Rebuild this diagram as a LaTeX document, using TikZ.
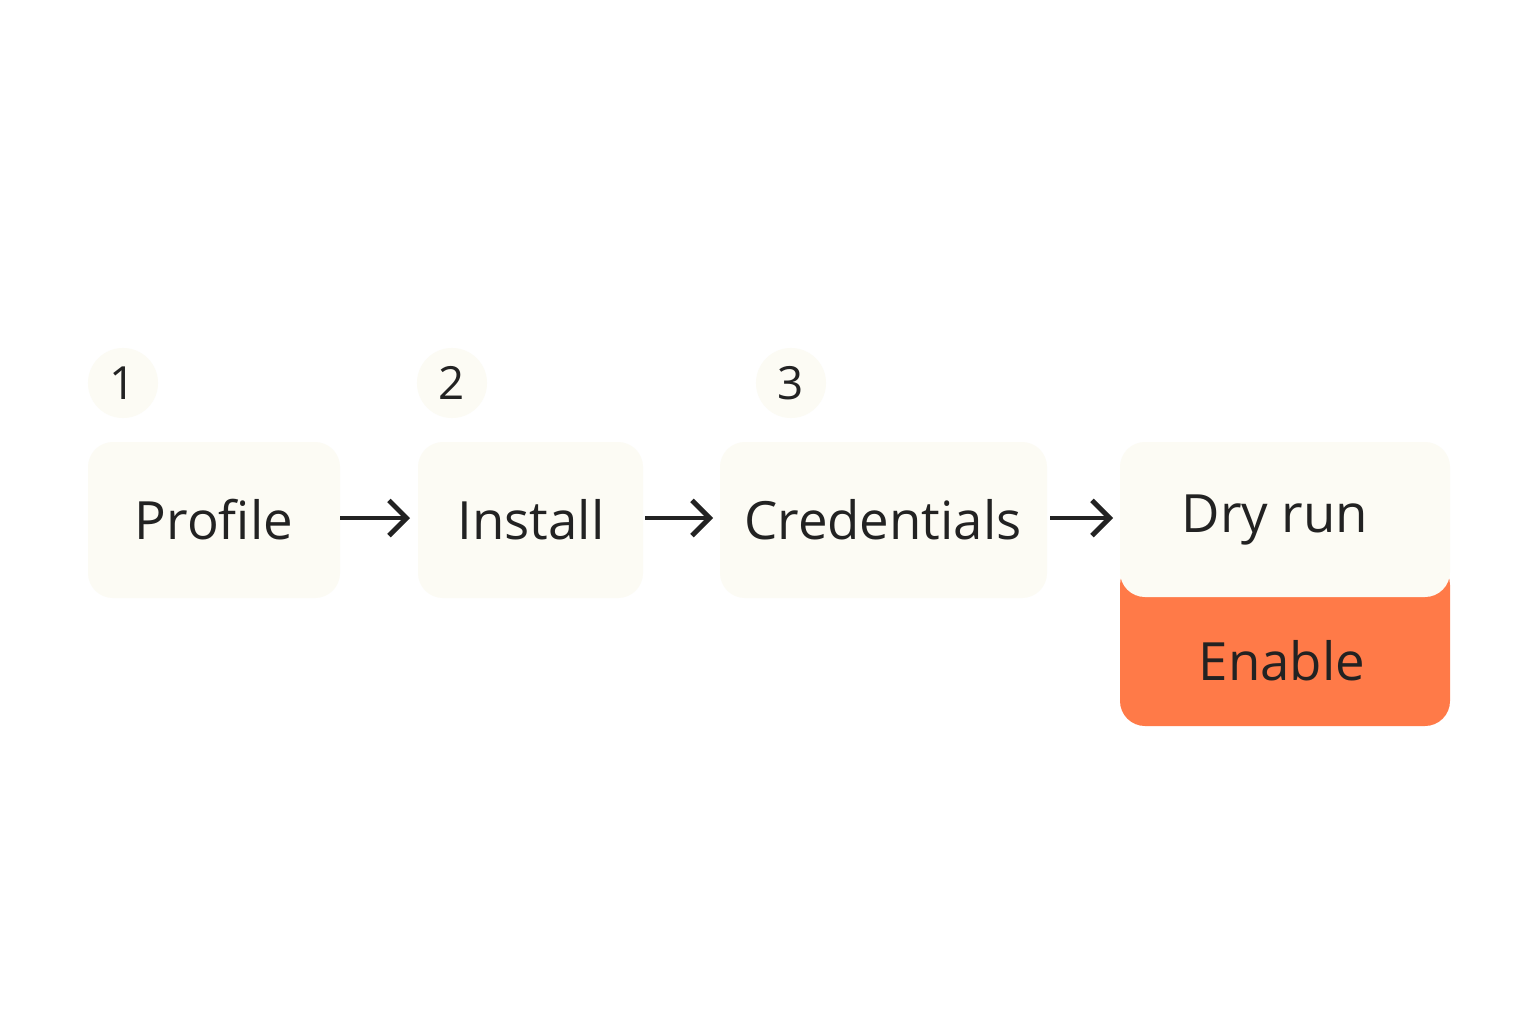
\documentclass[tikz,border=0pt]{standalone}
\usepackage{fontspec}
\setmainfont{Open Sans}
\begin{document}
\begin{tikzpicture}[x=0.01cm,y=-0.01cm,
  box/.style={draw=none,fill=cream,rounded corners=0.25cm},
  lbl/.style={font=\fontsize{15}{18}\selectfont,text=ink},
  num/.style={circle,fill=cream,minimum size=0.7cm,font=\fontsize{13}{16}\selectfont,text=ink,inner sep=0},
  arr/.style={->,line width=1.4pt,draw=ink,shorten >=0pt,>={Straight Barb[length=5pt,width=10pt]}}]
\usetikzlibrary{arrows.meta}
\definecolor{cream}{HTML}{FCFBF4}
\definecolor{ink}{HTML}{222222}
\definecolor{orng}{HTML}{FF7A48}
\useasboundingbox[fill=white] (0,0) rectangle (1536,1024);
\fill[box] (88,442) rectangle (340,598);
\fill[box] (418,442) rectangle (643,598);
\fill[box] (720,442) rectangle (1047,598);
\fill[orng,rounded corners=0.25cm] (1120,560) rectangle (1450,726);
\fill[cream,rounded corners=0.25cm] (1120,442) rectangle (1450,597);
\node[lbl] (p) at (214,520) {Profile};
\node[lbl] (i) at (531,520) {Install};
\node[lbl] (c) at (883,520) {Credentials};
\node[lbl] (d) at (1275,520) {Dry run};
\node[lbl] (e) at (1282,661) {Enable};
\node[num] (n1) at (123,383) {1};
\node[num] (n2) at (452,383) {2};
\node[num] (n3) at (791,383) {3};
\coordinate (a1) at (340,518); \coordinate (b1) at (410,518);
\coordinate (a2) at (645,518); \coordinate (b2) at (713,518);
\coordinate (a3) at (1050,518); \coordinate (b3) at (1113,518);
\draw[arr] (a1) -- (b1);
\draw[arr] (a2) -- (b2);
\draw[arr] (a3) -- (b3);
\end{tikzpicture}
\end{document}
